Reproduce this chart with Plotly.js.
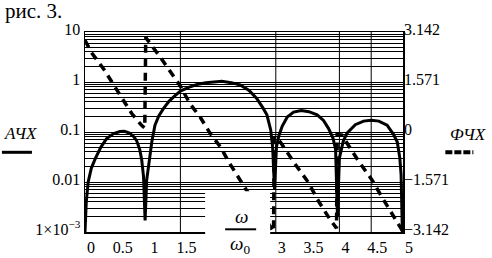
<!DOCTYPE html>
<html>
<head>
<meta charset="utf-8">
<script src="https://cdn.plot.ly/plotly-3.0.1.min.js"></script>
</head>
<body style="margin:0;background:#fff">
<div id="chart" style="width:492px;height:258px"></div>
<script>
// ---- data ----
const ampX = [0, 0.02, 0.05, 0.10, 0.16, 0.25, 0.34, 0.45, 0.55, 0.62, 0.70, 0.76, 0.81, 0.86, 0.89, 0.92, 0.945, 0.97, 1.00, 1.05, 1.10, 1.16, 1.23, 1.32, 1.42, 1.50, 1.63, 1.76, 1.90, 2.05, 2.15, 2.30, 2.44, 2.58, 2.70, 2.80, 2.86, 2.92, 2.95, 2.98, 3.01, 3.05, 3.10, 3.18, 3.28, 3.40, 3.52, 3.65, 3.75, 3.83, 3.90, 3.94, 3.97, 4.00, 4.06, 4.12, 4.25, 4.38, 4.50, 4.62, 4.75, 4.85, 4.91, 4.95, 4.97, 4.99];
const ampY = [0.001, 0.004, 0.01, 0.019, 0.029, 0.05, 0.074, 0.093, 0.102, 0.103, 0.095, 0.082, 0.068, 0.045, 0.029, 0.013, 0.0017, 0.011, 0.021, 0.063, 0.137, 0.21, 0.29, 0.41, 0.54, 0.66, 0.78, 0.89, 0.97, 1.02, 1.03, 0.97, 0.87, 0.68, 0.47, 0.30, 0.22, 0.11, 0.05, 0.007, 0.05, 0.085, 0.13, 0.20, 0.25, 0.27, 0.255, 0.22, 0.17, 0.117, 0.075, 0.045, 0.002, 0.03, 0.065, 0.095, 0.14, 0.165, 0.172, 0.165, 0.137, 0.09, 0.063, 0.03, 0.014, 0.001];

const phX = [0, 0.10, 0.29, 0.45, 0.60, 0.735, 0.89, 0.94, 0.955, 0.97, 1.18, 1.34, 1.50, 1.65, 1.81, 1.97, 2.13, 2.26, 2.39, 2.54, 2.965, 2.975, 3.07, 3.30, 3.50, 3.68, 3.86, 3.955, 3.965, 4.04, 4.29, 4.51, 4.70, 4.87, 4.99];
const phY = [2.88, 2.50, 1.99, 1.47, 1.00, 0.58, 0.21, 0.12, 2.98, 2.93, 2.36, 1.885, 1.44, 0.89, 0.47, -0.05, -0.47, -0.94, -1.36, -1.83, -3.13, -0.15, -0.31, -1.00, -1.55, -2.20, -2.77, -3.02, -0.08, -0.10, -0.88, -1.50, -2.15, -2.73, -3.10];

const xTickVals = [0, 0.5, 1, 1.5, 3, 3.5, 4, 4.5, 5];
const xTickText = ['0', '0.5', '1', '1.5', '3', '3.5', '4', '4.5', '5'];
const xGrid = [1.5, 3, 4, 4.5];

const yMajorVals = [0.001, 0.01, 0.1, 1, 10];
const yMajorText = ['1×10<sup>−3</sup>', '0.01', '0.1', '1', '10'];

const y2TickVals = [-3.142, -1.571, 0, 1.571, 3.142];
const y2TickText = ['−3.142', '−1.571', '0', '1.571', '3.142'];

const seriesNames = ['АЧХ', 'ФЧХ'];
const figTitle = 'рис. 3.';

// ---- layout helpers (pixel -> paper) ----
const L = 85, R = 402.7, T = 31.7, B = 231.7;
const PX = x => (x - L) / (R - L);
const PY = y => (B - y) / (B - T);

// log minor grid: digits 2..9 in each decade
const yMinorVals = [];
for (let i = 0; i < yMajorVals.length - 1; i++) {
  for (let d = 2; d <= 9; d++) yMinorVals.push(yMajorVals[i] * d);
}

const FAM = 'Liberation Serif';
const f = (size) => ({ family: FAM, size: size, color: '#000' });

const traces = [
  { x: ampX, y: ampY, xaxis: 'x', yaxis: 'y', mode: 'lines', name: seriesNames[0],
    line: { color: '#000', width: 3 }, hoverinfo: 'skip' },
  { x: phX, y: phY, xaxis: 'x', yaxis: 'y2', mode: 'lines', name: seriesNames[1],
    line: { color: '#000', width: 3.5, dash: '8px,6px' }, hoverinfo: 'skip' }
];

const shapes = [];
xGrid.forEach(v => shapes.push({ type: 'line', xref: 'x', yref: 'paper', x0: v, x1: v, y0: 0, y1: 1,
  line: { color: '#000', width: 1 }, layer: 'below' }));
shapes.push({ type: 'line', xref: 'paper', yref: 'paper', x0: PX(2), x1: PX(32), y0: PY(152), y1: PY(152),
  line: { color: '#000', width: 3 } });
shapes.push({ type: 'line', xref: 'paper', yref: 'paper', x0: PX(445), x1: PX(473), y0: PY(152), y1: PY(152),
  line: { color: '#000', width: 4, dash: '7px,2px' } });
shapes.push({ type: 'rect', xref: 'paper', yref: 'paper', x0: PX(205), x1: PX(270), y0: PY(258), y1: PY(191),
  fillcolor: '#fff', line: { width: 0 }, layer: 'above' });
shapes.push({ type: 'line', xref: 'paper', yref: 'paper', x0: PX(225), x1: PX(256), y0: PY(229), y1: PY(229),
  line: { color: '#000', width: 2 }, layer: 'above' });

const annotations = [
  { text: figTitle, xref: 'paper', yref: 'paper', x: PX(3), y: PY(11), xanchor: 'left', yanchor: 'middle',
    showarrow: false, font: f(21) },
  { text: '<i>' + seriesNames[0] + '</i>', xref: 'paper', yref: 'paper', x: PX(2), y: PY(133), xanchor: 'left', yanchor: 'middle',
    showarrow: false, font: f(17) },
  { text: '<i>' + seriesNames[1] + '</i>', xref: 'paper', yref: 'paper', x: PX(448), y: PY(134), xanchor: 'left', yanchor: 'middle',
    showarrow: false, font: f(17) },
  { text: '<i>ω</i>', xref: 'paper', yref: 'paper', x: PX(241), y: PY(216), xanchor: 'center', yanchor: 'middle',
    showarrow: false, font: f(19) },
  { text: '<i>ω</i><sub>0</sub>', xref: 'paper', yref: 'paper', x: PX(240), y: PY(245), xanchor: 'center', yanchor: 'middle',
    showarrow: false, font: f(19) }
];

const layout = {
  width: 492, height: 258,
  margin: { l: L, r: 492 - R, t: T, b: 258 - B, pad: 0 },
  paper_bgcolor: '#fff', plot_bgcolor: '#fff',
  showlegend: false,
  font: f(16),
  xaxis: { range: [0, 5], tickmode: 'array', tickvals: xTickVals, ticktext: xTickText,
    showgrid: false, zeroline: false, showline: true, mirror: true, linecolor: '#000', linewidth: 1.5,
    ticks: '', ticklabelshift: 6, tickfont: f(16) },
  yaxis: { type: 'log', range: [-3, 1], tickmode: 'array', tickvals: yMajorVals, ticktext: yMajorText,
    showgrid: true, gridcolor: '#000', gridwidth: 1,
    minor: { tickmode: 'array', tickvals: yMinorVals, showgrid: true, gridcolor: '#000', gridwidth: 1, ticks: '' },
    zeroline: false, showline: true, mirror: true,
    linecolor: '#000', linewidth: 1.5, ticks: '', ticklabelshift: -3, tickfont: f(16) },
  yaxis2: { overlaying: 'y', side: 'right', range: [-3.142, 3.142], tickmode: 'array', tickvals: y2TickVals,
    ticktext: y2TickText, showgrid: false, zeroline: false, showline: false, ticks: 'inside', ticklen: 4,
    tickcolor: '#000', ticklabelshift: -3, tickfont: f(16) },
  shapes: shapes,
  annotations: annotations
};

Plotly.newPlot('chart', traces, layout, { displayModeBar: false, staticPlot: true });
</script>
</body>
</html>
